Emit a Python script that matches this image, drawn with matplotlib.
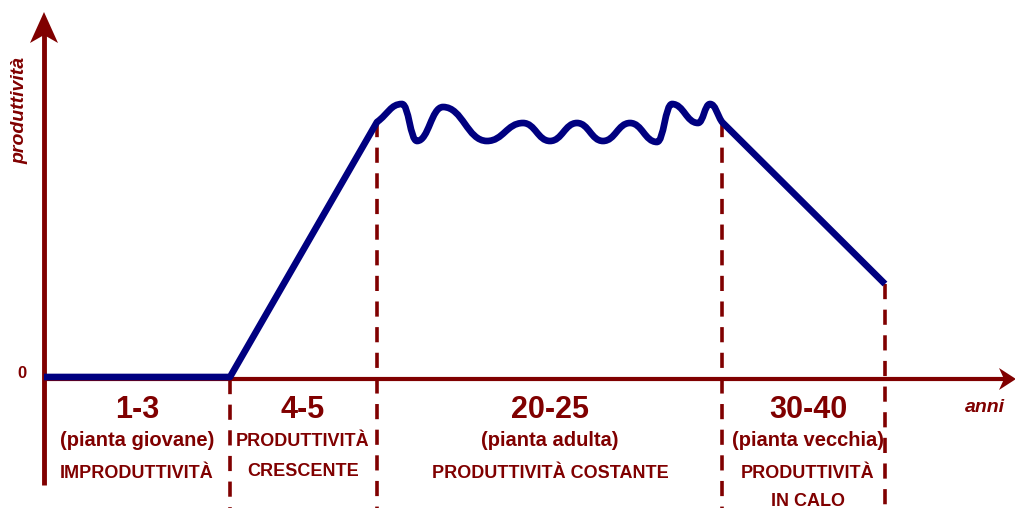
import numpy as np
import matplotlib.pyplot as plt
from matplotlib.path import Path
from matplotlib.patches import PathPatch

plt.rcParams['font.family'] = ['Liberation Sans', 'DejaVu Sans']

red = "#800000"
navy = "#000080"

# curve (x along time axis, y = productivity, baseline at 0)
curve_x = [44, 230, 377, 402, 417, 443, 487, 523, 550, 577, 603, 630, 657, 672, 698, 710, 722, 885]
curve_y = [2, 2, 257, 275, 238, 272, 238, 256, 238, 256, 238, 256, 237, 275, 256, 275, 257, 95]

# phase boundaries
bound_x = [230, 377, 722, 885]
bound_top = [0, 257, 257, 95]

# phase labels
phase_x = [137, 303, 550, 808]
phase_years = ["1-3", "4-5", "20-25", "30-40"]
phase_stage = ["(pianta giovane)", "", "(pianta adulta)", "(pianta vecchia)"]
phase_desc = [["IMPRODUTTIVITÀ"], ["PRODUTTIVITÀ", "CRESCENTE"],
              ["PRODUTTIVITÀ COSTANTE"], ["PRODUTTIVITÀ", "IN CALO"]]

fig = plt.figure(figsize=(10.15, 5.08), dpi=100, facecolor="white")
ax = fig.add_axes([0, 0, 1, 1])
ax.set_axis_off()
ax.set_xlim(0, 1015)
ax.set_ylim(-129, 379)

#axes
ax.plot([44, 44], [-106, 345], color=red, lw=3.5, solid_capstyle="butt", zorder=2)
ax.fill([44, 30, 44, 58], [367, 336, 344, 336], color=red, lw=0, zorder=2)
ax.plot([44, 1004], [0, 0], color=red, lw=3.0, solid_capstyle="butt", zorder=2)
ax.fill([1016, 999, 1004, 999], [0, 11, 0, -11], color=red, lw=0, zorder=2)

#boundaries
for bx, bt in zip(bound_x, bound_top):
    ax.plot([bx, bx], [bt, -129], color=red, lw=2.6,
            linestyle=(0, (4.2, 2.9)), zorder=1)

#curve: straight pieces plus smooth wave between extrema
i0 = curve_x.index(377)
i1 = curve_x.index(722)
verts = [(curve_x[0], curve_y[0])]
codes = [Path.MOVETO]
for i in range(1, i0 + 1):
    verts.append((curve_x[i], curve_y[i]))
    codes.append(Path.LINETO)
k = 0.45
for i in range(i0, i1):
    x0, y0 = curve_x[i], curve_y[i]
    x1, y1 = curve_x[i + 1], curve_y[i + 1]
    dx = x1 - x0
    if i == i0:
        c1 = (x0 + k * dx, y0 + k * (y1 - y0))
    else:
        c1 = (x0 + k * dx, y0)
    if i + 1 == i1:
        c2 = (x1 - k * dx, y1 - k * (y1 - y0))
    else:
        c2 = (x1 - k * dx, y1)
    verts += [c1, c2, (x1, y1)]
    codes += [Path.CURVE4] * 3
for i in range(i1 + 1, len(curve_x)):
    verts.append((curve_x[i], curve_y[i]))
    codes.append(Path.LINETO)
ax.add_patch(PathPatch(Path(verts, codes), facecolor="none", edgecolor=navy,
                       lw=4.8, capstyle="butt", joinstyle="round", zorder=3))

#texts
ax.text(20, 269, "produttività", rotation=90, ha="center", va="center",
        color=red, fontsize=14, fontweight="bold", style="italic")
ax.text(22, 6, "0", ha="center", va="center", color=red, fontsize=12,
        fontweight="bold")
ax.text(985, -29, "anni", ha="center", va="center", color=red, fontsize=14,
        fontweight="bold", style="italic")

for px, yrs, stg, desc in zip(phase_x, phase_years, phase_stage, phase_desc):
    ax.text(px, -31, yrs, ha="center", va="center", color=red, fontsize=22,
            fontweight="bold")
    if stg:
        ax.text(px, -61, stg, ha="center", va="center", color=red,
                fontsize=14.5, fontweight="bold")
        ys = [-95, -122]
    else:
        ys = [-63, -93]
    for y, d in zip(ys, desc):
        ax.text(px, y, d, ha="center", va="center", color=red,
                fontsize=13, fontweight="bold")

fig.savefig("out.png", dpi=100)
